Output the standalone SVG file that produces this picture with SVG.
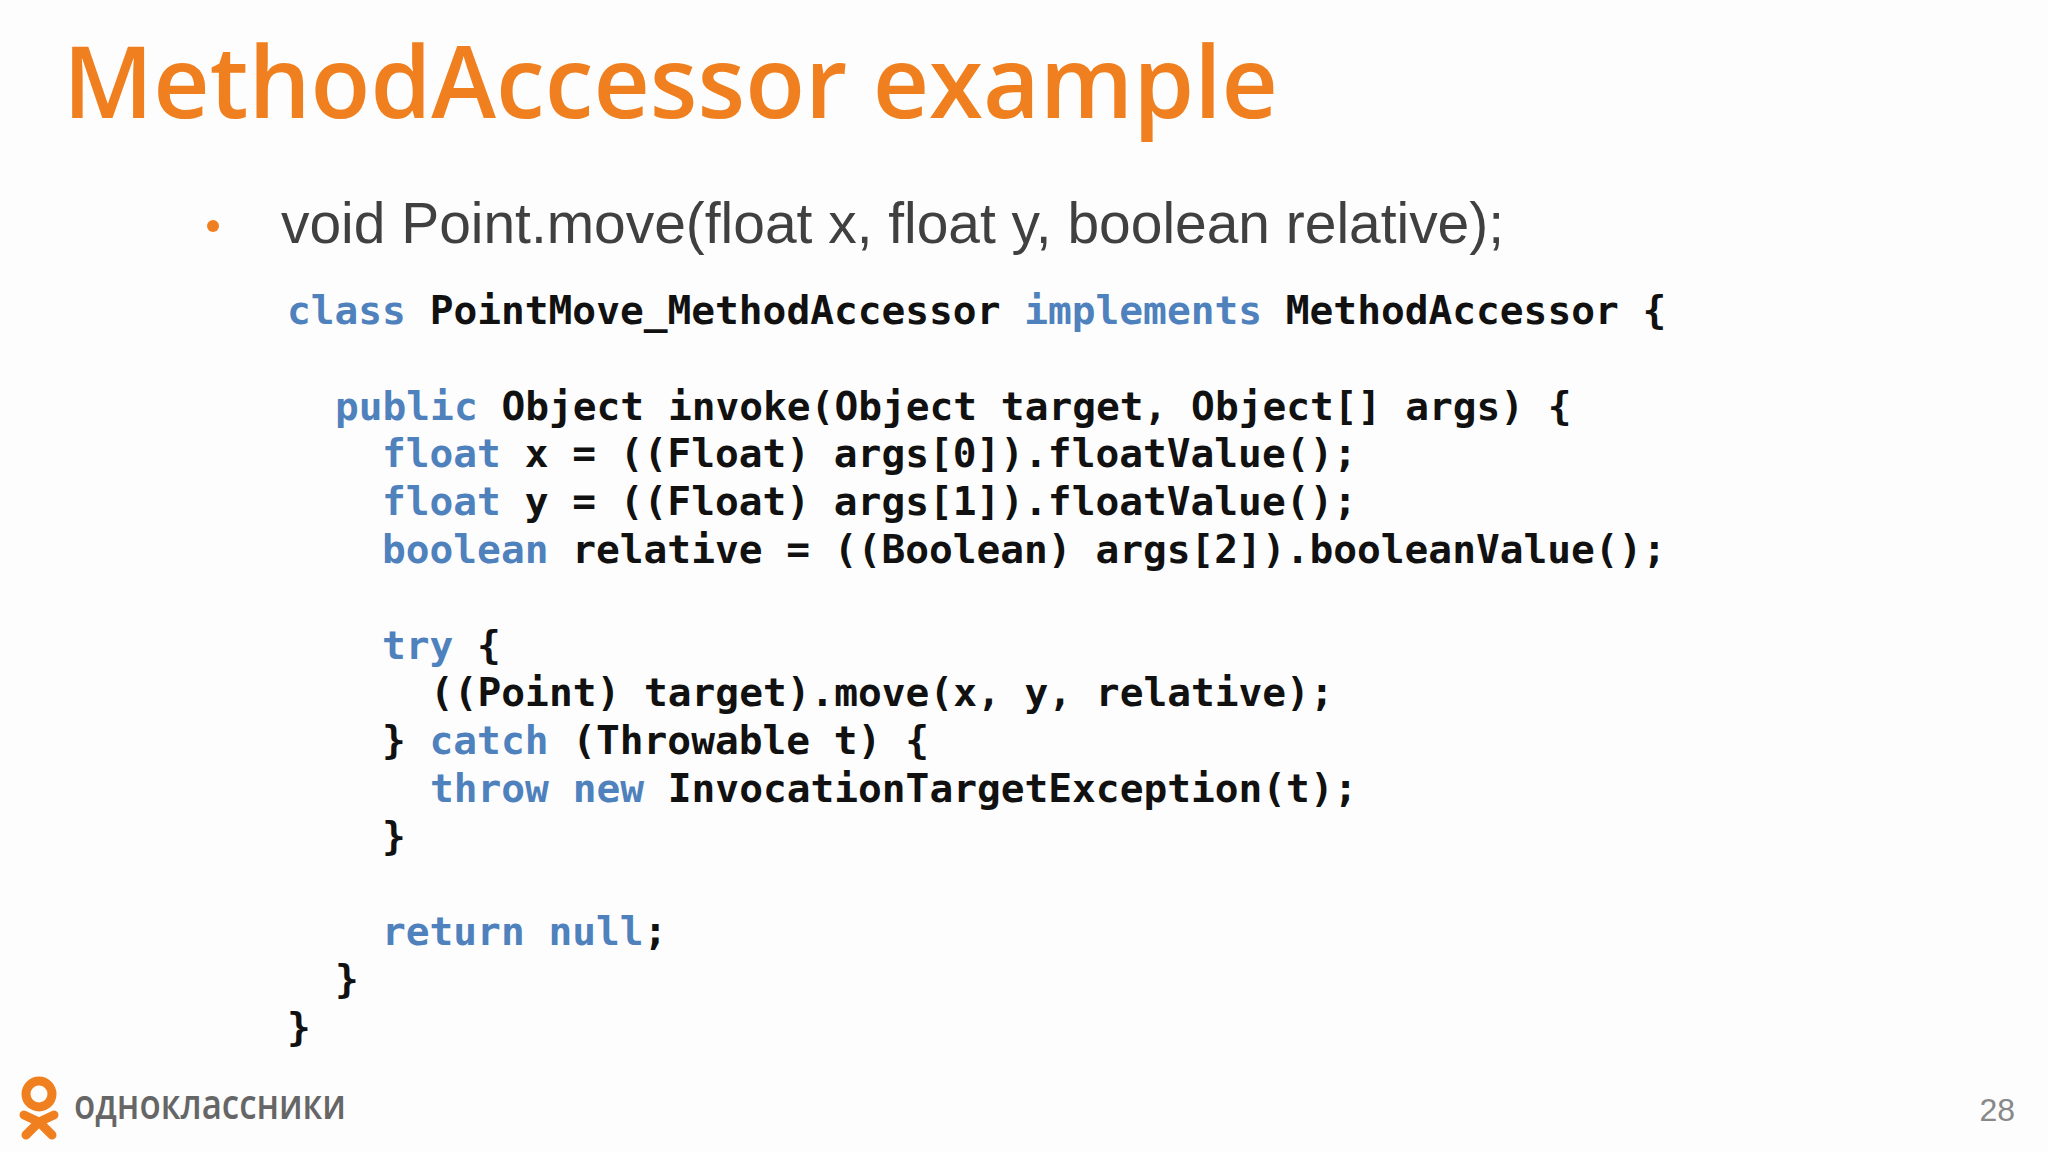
<svg xmlns="http://www.w3.org/2000/svg" width="2048" height="1152" viewBox="0 0 2048 1152">
<style>
.code{font-family:"DejaVu Sans Mono",monospace;font-weight:bold;font-size:39.5px;fill:#111}
.k{fill:#4f81bd}
</style>
<rect width="2048" height="1152" fill="#fdfdfd"/>
<g id="title"><text x="63" y="118" font-family="Open Sans, sans-serif" font-weight="600" font-size="100" fill="#f0801f" textLength="1215" lengthAdjust="spacingAndGlyphs">MethodAccessor example</text></g>
<g id="bullet">
<circle cx="213" cy="226" r="6" fill="#f0801f"/>
<text x="281" y="243" font-family="Liberation Sans, Arial, sans-serif" font-size="58" fill="#404040" textLength="1223" lengthAdjust="spacingAndGlyphs">void Point.move(float x, float y, boolean relative);</text>
</g>
<g id="code" class="code">
<text x="287" y="324"><tspan class="k">class</tspan> PointMove_MethodAccessor <tspan class="k">implements</tspan> MethodAccessor {</text>
<text x="335" y="420"><tspan class="k">public</tspan> Object invoke(Object target, Object[] args) {</text>
<text x="382" y="467"><tspan class="k">float</tspan> x = ((Float) args[0]).floatValue();</text>
<text x="382" y="515"><tspan class="k">float</tspan> y = ((Float) args[1]).floatValue();</text>
<text x="382" y="563"><tspan class="k">boolean</tspan> relative = ((Boolean) args[2]).booleanValue();</text>
<text x="382" y="659"><tspan class="k">try</tspan> {</text>
<text x="430" y="706">((Point) target).move(x, y, relative);</text>
<text x="382" y="754">} <tspan class="k">catch</tspan> (Throwable t) {</text>
<text x="430" y="802"><tspan class="k">throw</tspan> <tspan class="k">new</tspan> InvocationTargetException(t);</text>
<text x="382" y="850">}</text>
<text x="382" y="945"><tspan class="k">return</tspan> <tspan class="k">null</tspan>;</text>
<text x="335" y="993">}</text>
<text x="287" y="1041">}</text>
</g>
<g id="logo">
<circle cx="39" cy="1094" r="13" fill="none" stroke="#f0801f" stroke-width="9"/>
<path d="M24 1115 L39 1122 L54 1115" fill="none" stroke="#f0801f" stroke-width="9" stroke-linecap="round" stroke-linejoin="round"/>
<path d="M39 1122 L26 1135 M39 1122 L52 1135" fill="none" stroke="#f0801f" stroke-width="9" stroke-linecap="round"/>
<text x="74" y="1119" font-family="Open Sans, sans-serif" font-weight="600" font-size="42" fill="#666" textLength="272" lengthAdjust="spacingAndGlyphs">одноклассники</text>
</g>
<g id="page"><text x="2015" y="1121" text-anchor="end" font-family="Liberation Sans, Arial, sans-serif" font-size="32" fill="#888">28</text></g>
</svg>
